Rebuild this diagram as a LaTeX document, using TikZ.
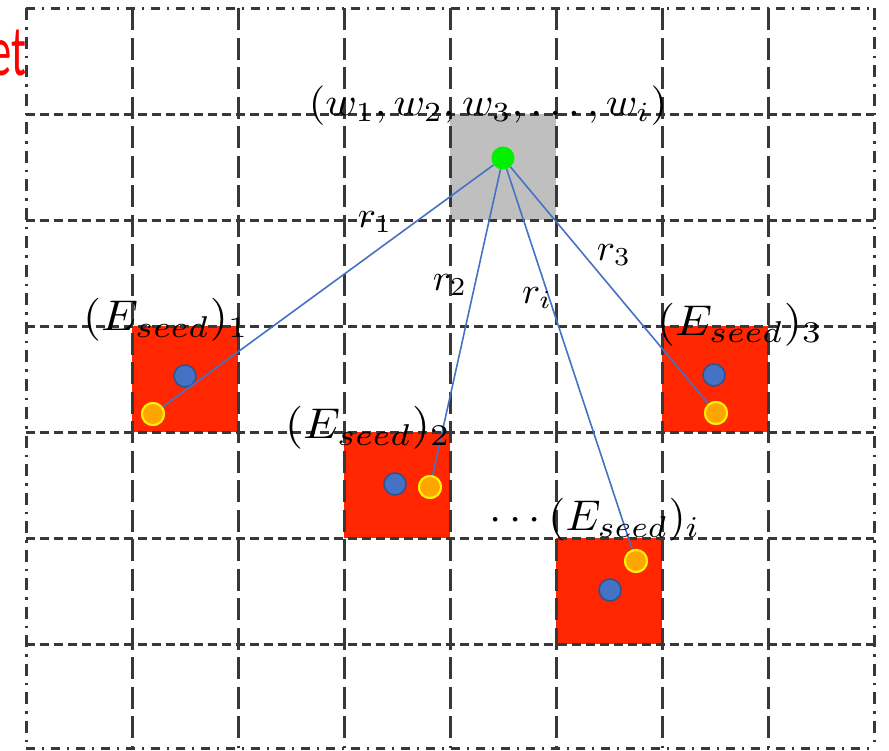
\documentclass[tikz,border=0pt]{standalone}
\usepackage{fontspec}
\newfontfamily\redfont{Carlito}
\definecolor{cellred}{HTML}{FF2600}
\definecolor{cellgray}{HTML}{BFBFBF}
\definecolor{gridc}{HTML}{383838}
\definecolor{dotblue}{HTML}{4472C4}
\definecolor{dotblueb}{HTML}{2F528F}
\definecolor{dotorange}{HTML}{FFA500}
\definecolor{dotgreen}{HTML}{00F000}
\newcommand{\MyWMath}[1]{\scalebox{4.25}[3.95]{$#1$}}
\newcommand{\MyEMath}[1]{\scalebox{4.65}[4.3]{$#1$}}
\newcommand{\MyRMath}[1]{\scalebox{3.8}[3.7]{$#1$}}
\tikzset{
  hgrid/.style={draw=gridc,line width=3pt,dash pattern=on 9pt off 5pt},
  vgrid/.style={draw=gridc,line width=3pt,dash pattern=on 22pt off 7.5pt},
  hborder/.style={draw=gridc,line width=3pt,dash pattern=on 9pt off 6.5pt on 2.5pt off 7pt},
  vborder/.style={draw=gridc,line width=3pt,dash pattern=on 12pt off 7pt on 2.5pt off 7pt},
  bluedot/.style={circle,fill=dotblue,draw=dotblueb,line width=1.5pt,minimum size=22pt,inner sep=0pt},
  orangedot/.style={circle,fill=dotorange,draw=yellow,line width=2pt,minimum size=22pt,inner sep=0pt},
  greendot/.style={circle,fill=dotgreen,minimum size=23pt,inner sep=0pt},
  link/.style={draw=dotblue,line width=1.6pt},
  mlabel/.style={inner sep=0pt},
}
\begin{document}
\begin{tikzpicture}[x=1pt,y=-1pt]
\useasboundingbox (0,0) rectangle (889,750);
% cells
\fill[cellgray] (450,114) rectangle (556,220);
\fill[cellred] (132,326) rectangle (238,432);
\fill[cellred] (344,432) rectangle (450,538);
\fill[cellred] (556,538) rectangle (662,644);
\fill[cellred] (662,326) rectangle (768,432);
% grid
\foreach \x in {132,238,344,450,556,662,768} \draw[vgrid] (\x,8) -- (\x,748);
\foreach \y in {114,220,326,432,538,644} \draw[hgrid] (26,\y) -- (874,\y);
\draw[hborder] (26,8) -- (874,8);
\draw[hborder] (26,748) -- (874,748);
\draw[vborder] (26,8) -- (26,748);
\draw[vborder] (874,8) -- (874,748);
% red clipped text
\node[anchor=base east,inner sep=0pt,text=red,font=\redfont\fontsize{72}{74}\selectfont] (title) at (27,75) {\scalebox{0.62}[1]{et}};
% dots
\node[bluedot] (b1) at (185,376) {};
\node[bluedot] (b2) at (395,484) {};
\node[bluedot] (bi) at (610,590) {};
\node[bluedot] (b3) at (714,375) {};
\node[orangedot] (o1) at (153,414) {};
\node[orangedot] (o2) at (430,487) {};
\node[orangedot] (oi) at (636,561) {};
\node[orangedot] (o3) at (716,413) {};
\node[greendot] (g) at (503,158) {};
% links
\draw[link] (g) -- (o1);
\draw[link] (g) -- (o2);
\draw[link] (g) -- (oi);
\draw[link] (g) -- (o3);
\node[orangedot] at (o1) {};
\node[orangedot] at (o2) {};
\node[orangedot] at (oi) {};
\node[orangedot] at (o3) {};
% labels
\node[mlabel] (wl) at (488,106) {\MyWMath{(w_1,w_2,w_3,\ldots,w_i)}};
\node[mlabel] (r1) at (375,222) {\MyRMath{r_1}};
\node[mlabel] (r2) at (450,285) {\MyRMath{r_2}};
\node[mlabel] (ri) at (537,298) {\MyRMath{r_i}};
\node[mlabel] (r3) at (614,255) {\MyRMath{r_3}};
\node[mlabel] (e1) at (166,320) {\MyEMath{(E_{seed})_1}};
\node[mlabel] (e2) at (368,428) {\MyEMath{(E_{seed})_2}};
\node[mlabel] (ei) at (595,520) {\scalebox{4.4}[4.3]{$\cdots(E_{seed})_i$}};
\node[mlabel] (e3) at (740,325) {\MyEMath{(E_{seed})_3}};
\end{tikzpicture}
\end{document}
